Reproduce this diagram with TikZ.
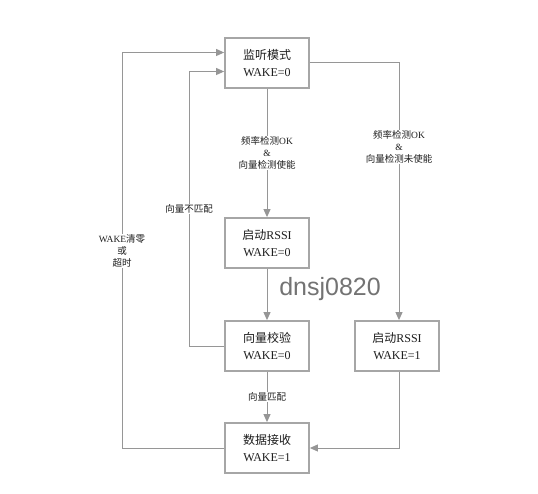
\documentclass[tikz,border=0pt]{standalone}
\usepackage{fontspec}
\setmainfont{Liberation Serif}
\newfontfamily\cjk{Noto Sans CJK SC}
\newfontfamily\marque{Liberation Sans}
\usetikzlibrary{arrows.meta}

\definecolor{bordgris}{RGB}{166,166,166}
\definecolor{traitgris}{RGB}{150,150,150}
\definecolor{texte}{RGB}{30,30,30}

\tikzset{
  etat/.style={draw=bordgris, line width=1.8pt, fill=white, text=texte,
    minimum width=84pt, minimum height=50pt, align=center,
    font=\fontsize{12}{17}\selectfont},
  fleche/.style={draw=traitgris, line width=1pt,
    -{Triangle[length=8pt,width=7pt,fill=traitgris]}},
  etiq/.style={fill=white, text=texte, align=center, inner sep=1pt,
    font=\fontsize{9.5}{12}\selectfont},
}

\begin{document}
\begin{tikzpicture}[x=1pt,y=-1pt]

    \useasboundingbox[fill=white] (0,0) rectangle (538,494);

    % Filigrane
    \node[text=black!55, font=\marque\fontsize{25}{25}\selectfont] (filigrane) at (330,289) {dnsj0820};

    % Etats
    \node[etat] (ecoute) at (267,63) {{\cjk 监听模式}\\WAKE=0};
    \node[etat] (rssiA) at (267,243) {{\cjk 启动}RSSI\\WAKE=0};
    \node[etat] (verif) at (267,346) {{\cjk 向量校验}\\WAKE=0};
    \node[etat] (rssiB) at (397,346) {{\cjk 启动}RSSI\\WAKE=1};
    \node[etat] (recep) at (267,448) {{\cjk 数据接收}\\WAKE=1};

    % Transitions
    \draw[fleche] (ecoute) -- (rssiA);
    \draw[fleche] (ecoute.east) -| ([xshift=2pt]rssiB.north);
    \draw[fleche] (rssiA) -- (verif);
    \draw[fleche] (verif) -- (recep);
    \draw[fleche] ([xshift=2pt]rssiB.south) |- (recep.east);
    \draw[fleche] (verif.west) -- ++(-35,0) |- ([yshift=-8.5pt]ecoute.west);
    \draw[fleche] (recep.west) -- ++(-102,0) |- ([yshift=10.5pt]ecoute.west);

    % Labels
    \node[etiq] (okA) at (267,153) {{\cjk 频率检测}OK\\\&\\{\cjk 向量检测使能}};
    \node[etiq] (okB) at (399,147) {{\cjk 频率检测}OK\\\&\\{\cjk 向量检测未使能}};
    \node[etiq] (nonmatch) at (189,209) {\cjk 向量不匹配};
    \node[etiq] (match) at (267,397) {\cjk 向量匹配};
    \node[etiq] (efface) at (122,251) {WAKE{\cjk 清零}\\{\cjk 或}\\{\cjk 超时}};

\end{tikzpicture}
\end{document}
